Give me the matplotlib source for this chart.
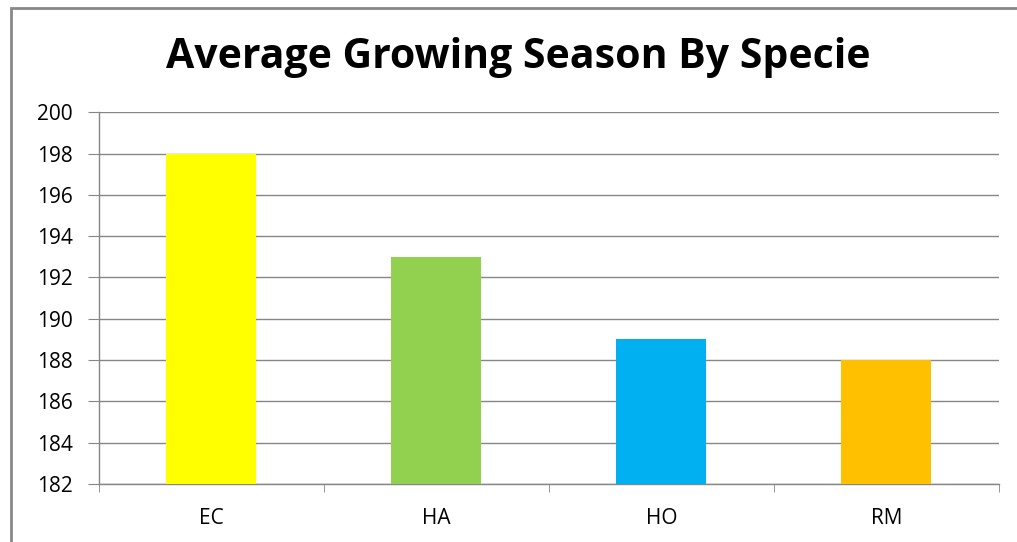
import matplotlib.pyplot as plt
import numpy as np
from matplotlib.patches import Rectangle

plt.rcParams['font.family'] = ['Open Sans', 'DejaVu Sans']

# 数据
species = ['EC', 'HA', 'HO', 'RM']
avg_season = [198, 193, 189, 188]
bar_colors = ['#FFFF00', '#92D050', '#00B0F0', '#FFC000']
y_ticks = list(range(182, 201, 2))

fig = plt.figure(figsize=(10.17, 5.42), dpi=100)
ax = fig.add_axes([0.0973, 0.107, 0.885, 0.686])

x = np.arange(len(species))
ax.bar(x, [v - 182 for v in avg_season], bottom=182, width=0.4,
       color=bar_colors, zorder=3)

ax.set_xlim(-0.5, len(species) - 0.5)
ax.set_ylim(182, 200)
ax.set_yticks(y_ticks)
ax.tick_params(axis='y', labelsize=15, length=8, color='#868686', pad=11)
ax.grid(axis='y', color='#868686', linewidth=1, zorder=0)

# x轴：分类标签居中，刻度线在分类边界
ax.set_xticks(x)
ax.set_xticklabels(species, fontsize=15)
ax.tick_params(axis='x', length=0, pad=17)
ax.set_xticks(np.arange(-0.5, len(species)), minor=True)
ax.tick_params(axis='x', which='minor', length=6, color='#868686')

for side in ['top', 'right']:
    ax.spines[side].set_visible(False)
for side in ['left', 'bottom']:
    ax.spines[side].set_color('#868686')
    ax.spines[side].set_linewidth(1)

fig.text(0.51, 0.893, 'Average Growing Season By Specie', ha='center',
         va='center', fontsize=29.5, fontweight='bold')

# 图表外框
fig.patches.append(Rectangle((11 / 1017, -0.1), 1.2, 1.1 - 8 / 542,
                             transform=fig.transFigure, fill=False,
                             edgecolor='#888888', linewidth=2))

fig.savefig('out.png', dpi=100)
